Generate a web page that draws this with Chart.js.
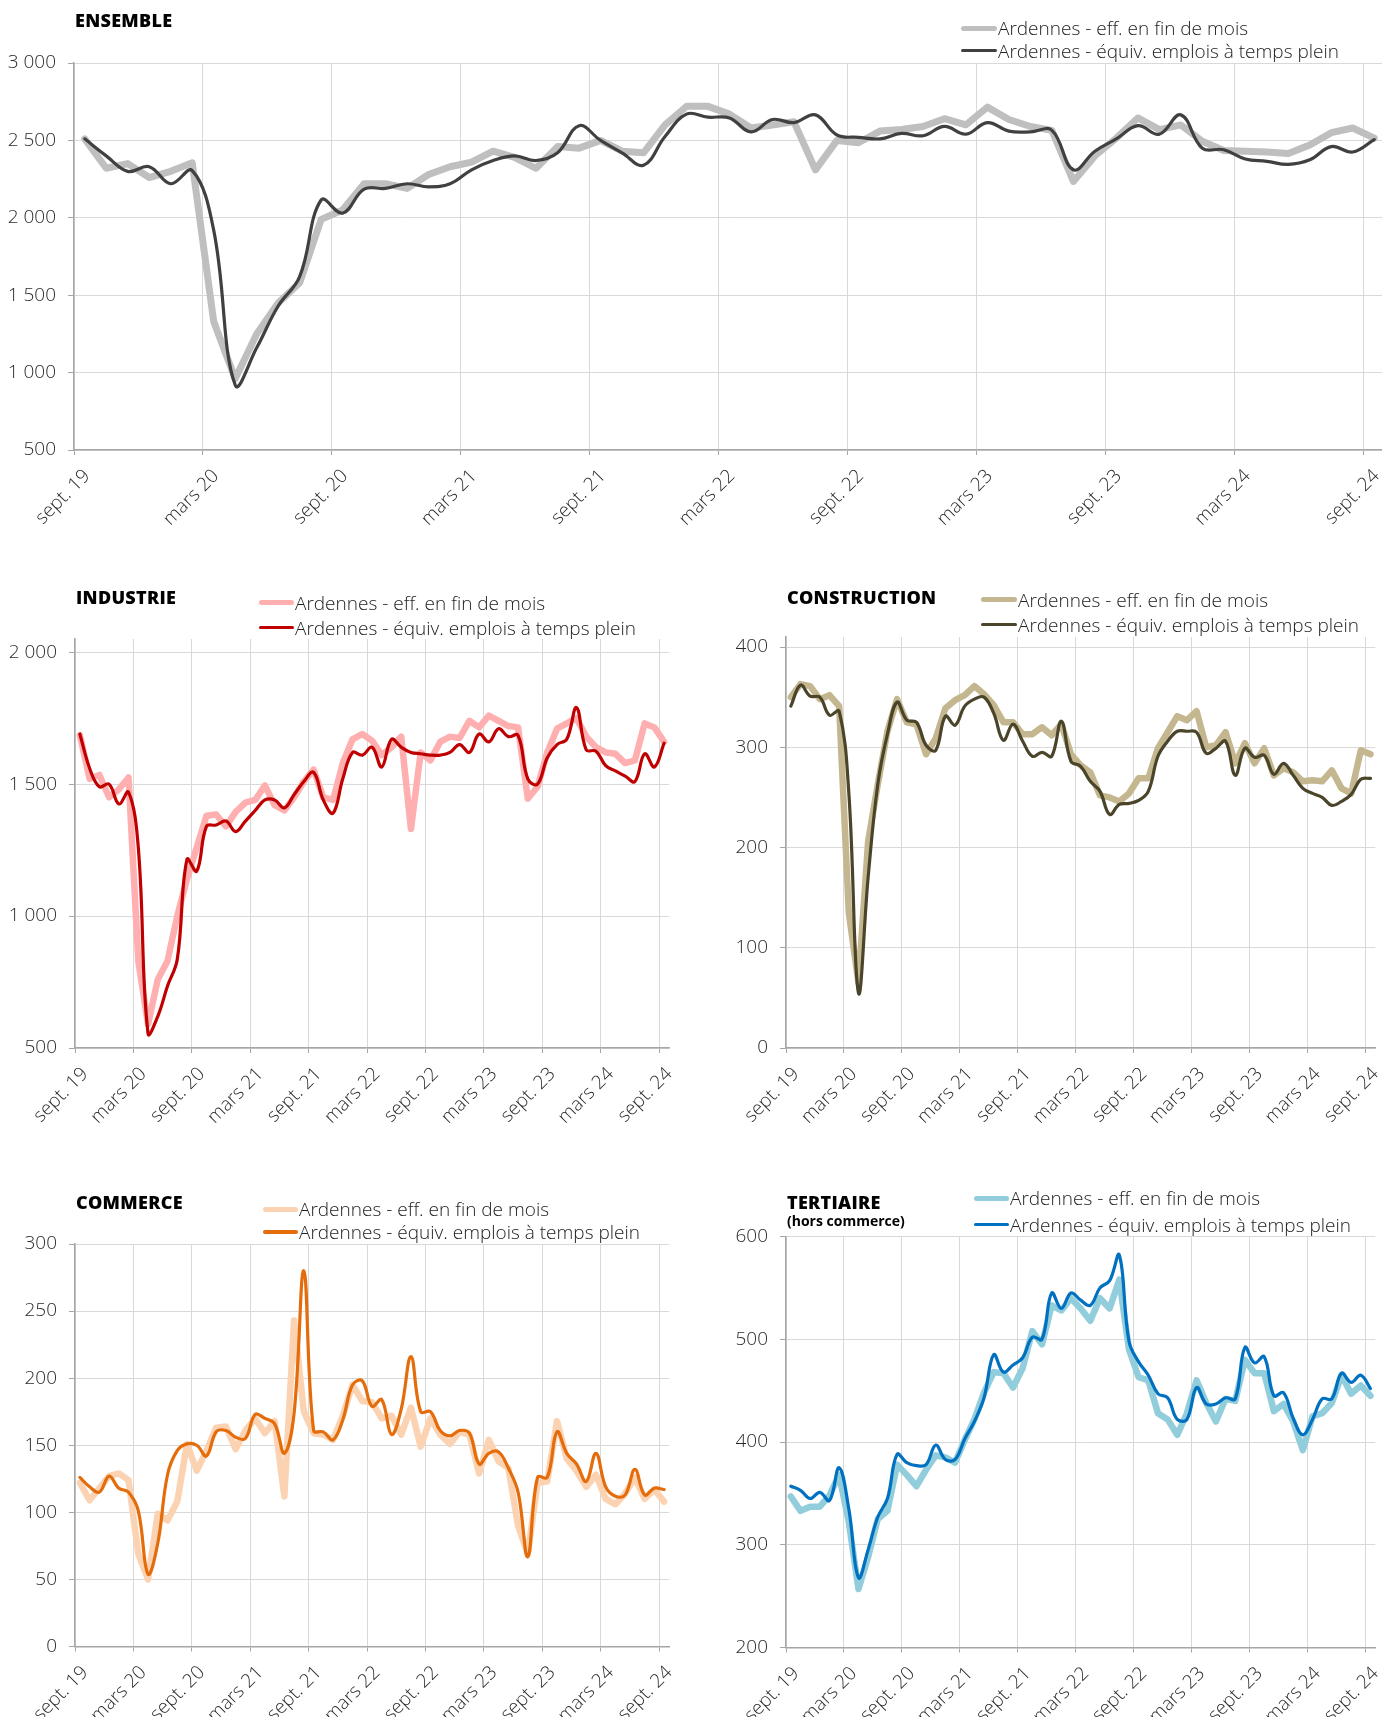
<!DOCTYPE html>
<html lang="fr">
<head>
<meta charset="utf-8">
<script src="https://cdn.jsdelivr.net/npm/chart.js@4.4.1/dist/chart.umd.min.js"></script>
<style>
  html, body { margin: 0; padding: 0; background: #fff; }
  body { width: 1382px; height: 1717px; overflow: hidden; position: relative; font-family: "Open Sans", "DejaVu Sans", sans-serif; color: #404040; }
  canvas { position: absolute; }
  .title { position: absolute; font-family: "Open Sans", sans-serif; font-weight: 800; font-size: 18px; color: #000; line-height: 18px; white-space: nowrap; letter-spacing: 0.3px; }
  .subtitle { position: absolute; font-family: "Open Sans", sans-serif; font-weight: 700; font-size: 14px; color: #000; line-height: 16px; white-space: nowrap; }
  .leg { position: absolute; font-family: "Open Sans", sans-serif; font-weight: 300; font-size: 19px; color: #222; line-height: 22px; white-space: nowrap; }
  .sw { position: absolute; border-radius: 3px; }
</style>
</head>
<body>
<script>
// ---------- DATA ----------
const tickLabels = ['sept. 19','mars 20','sept. 20','mars 21','sept. 21','mars 22','sept. 22','mars 23','sept. 23','mars 24','sept. 24'];
const seriesNames = ['Ardennes - eff. en fin de mois', 'Ardennes - équiv. emplois à temps plein'];

const ensEff = [2510,2320,2350,2260,2300,2355,1330,960,1250,1450,1580,1990,2050,2220,2220,2190,2280,2330,2360,2430,2390,2320,2460,2450,2500,2430,2420,2600,2720,2720,2670,2580,2600,2620,2310,2500,2485,2560,2570,2590,2640,2600,2715,2635,2590,2565,2235,2400,2515,2645,2570,2600,2495,2435,2430,2425,2415,2470,2550,2580,2515];
const ensEtp = [2510,2400,2300,2330,2220,2305,1920,920,1160,1430,1620,2115,2030,2185,2190,2220,2200,2220,2310,2370,2400,2370,2420,2595,2500,2420,2340,2525,2670,2650,2645,2555,2635,2615,2665,2535,2520,2510,2545,2530,2590,2540,2615,2560,2555,2565,2310,2430,2510,2595,2540,2665,2450,2440,2380,2365,2345,2375,2460,2425,2505];

const indEff = [1685,1520,1535,1450,1480,1525,830,590,760,830,1000,1140,1260,1380,1385,1340,1395,1430,1440,1495,1420,1400,1450,1510,1555,1450,1440,1580,1670,1690,1665,1610,1640,1680,1330,1620,1590,1660,1680,1675,1740,1715,1760,1740,1720,1715,1445,1490,1620,1710,1730,1750,1680,1640,1620,1615,1580,1590,1730,1715,1660];
const indEtp = [1690,1560,1490,1500,1425,1470,1260,555,620,735,835,1215,1170,1340,1345,1360,1320,1360,1400,1440,1440,1410,1460,1510,1545,1440,1390,1520,1620,1610,1640,1565,1670,1640,1620,1615,1610,1610,1620,1650,1620,1690,1660,1710,1680,1685,1520,1500,1600,1650,1670,1790,1630,1625,1570,1550,1530,1510,1615,1565,1655];

const conEff = [350,363,361,348,352,341,135,65,206,263,316,348,325,323,293,309,339,347,352,361,353,342,325,325,313,313,320,312,323,293,282,275,252,250,246,254,269,269,299,315,331,327,336,300,302,315,284,304,284,299,272,279,275,266,267,266,277,259,254,297,293];
const conEtp = [341,362,351,350,332,336,255,55,170,263,313,345,327,325,302,297,331,322,341,348,350,334,307,323,306,291,295,291,326,286,281,266,256,233,243,244,247,256,291,306,316,316,315,294,299,306,272,299,290,292,273,284,272,259,254,250,242,246,253,268,269];

const comEff = [122,109,118,127,129,124,69,50,99,94,108,151,131,146,163,164,147,161,170,159,168,112,243,175,159,158,154,172,195,183,182,170,172,158,178,149,170,158,151,160,158,129,154,138,133,90,69,122,123,168,140,131,119,128,110,106,114,126,110,117,108];
const comEtp = [126,119,115,127,118,115,101,54,77,128,146,151,150,142,160,161,156,155,173,170,166,144,174,280,161,160,154,169,195,198,179,184,158,177,216,175,175,161,157,161,159,136,144,145,133,115,67,126,126,160,144,136,123,144,119,112,113,132,113,118,117];

const terEff = [347,333,337,337,348,368,322,257,288,325,333,378,368,357,373,387,385,380,402,422,448,468,467,453,472,508,495,533,528,540,530,518,540,530,558,490,463,460,428,422,407,428,460,438,420,442,440,480,467,467,430,437,420,392,425,428,438,465,447,455,445];
const terEtp = [357,353,345,351,343,375,335,268,295,327,345,388,380,377,378,397,383,383,403,420,443,485,468,475,482,502,500,545,530,545,538,533,550,557,582,498,478,465,447,443,422,422,453,437,437,443,442,492,477,483,445,448,423,407,422,442,442,467,458,465,452];

const ensTicks = [500,1000,1500,2000,2500,3000];
const indTicks = [500,1000,1500,2000];
const conTicks = [0,100,200,300,400];
const comTicks = [0,50,100,150,200,250,300];
const terTicks = [200,300,400,500,600];

// ---------- PANELS (layout + styles) ----------
const panels = [
  { title: 'ENSEMBLE', eff: ensEff, etp: ensEtp, yTicks: ensTicks, yMin: 500, yMax: 3000,
    effColor: '#BFBFBF', etpColor: '#404040', effW: 7, etpW: 3.2, lblOff: 13,
    box: { left: 0, top: 0, w: 1392, h: 525 }, area: { left: 74, top: 63, right: 1385, bottom: 450 },
    titlePos: { x: 75, y: 20 }, legPos: { x: 961, y1: 28, y2: 50.5, len: 36 } },
  { title: 'INDUSTRIE', eff: indEff, etp: indEtp, yTicks: indTicks, yMin: 500, yMax: 2050,
    effColor: '#FFAFAF', etpColor: '#C00000', effW: 6.5, etpW: 3.2, lblOff: 10,
    box: { left: 0, top: 560, w: 690, h: 565 }, area: { left: 75, top: 639, right: 669, bottom: 1048 },
    titlePos: { x: 76, y: 597 }, legPos: { x: 259, y1: 602.5, y2: 627.5, len: 35 } },
  { title: 'CONSTRUCTION', eff: conEff, etp: conEtp, yTicks: conTicks, yMin: 0, yMax: 410,
    effColor: '#C4B78F', etpColor: '#4A452A', effW: 6.5, etpW: 3.2, lblOff: 10,
    box: { left: 690, top: 560, w: 702, h: 565 }, area: { left: 786, top: 637, right: 1378, bottom: 1048 },
    titlePos: { x: 787, y: 597 }, legPos: { x: 981, y1: 599.5, y2: 624.5, len: 36 } },
  { title: 'COMMERCE', eff: comEff, etp: comEtp, yTicks: comTicks, yMin: 0, yMax: 300,
    effColor: '#FBD3B3', etpColor: '#E46C0A', effW: 6.5, etpW: 3.2, lblOff: 10,
    box: { left: 0, top: 1160, w: 690, h: 557 }, area: { left: 75, top: 1244, right: 669, bottom: 1646.5 },
    titlePos: { x: 76, y: 1202 }, legPos: { x: 263, y1: 1209, y2: 1232, len: 35 } },
  { title: 'TERTIAIRE', subtitle: '(hors commerce)', eff: terEff, etp: terEtp, yTicks: terTicks, yMin: 200, yMax: 600,
    effColor: '#92CDDC', etpColor: '#0070C0', effW: 6.5, etpW: 3.2, lblOff: 10,
    box: { left: 690, top: 1160, w: 702, h: 557 }, area: { left: 786, top: 1236.5, right: 1378, bottom: 1647.5 },
    titlePos: { x: 787, y: 1202 }, subPos: { x: 787, y: 1221 }, legPos: { x: 974, y1: 1198, y2: 1224.5, len: 35 } }
];

const fmt = v => String(v).replace(/\B(?=(\d{3})+(?!\d))/g, ' ');
const toXY = arr => arr.map((v, i) => ({ x: i + 0.5, y: v }));
const TEXT = '#2a2a2a';
const GRID = '#D9D9D9';
const AXIS = '#A6A6A6';
const FONT = { family: '"Open Sans", "DejaVu Sans", sans-serif', size: 19, weight: '300' };

function addDiv(cls, text, x, yCenter, lh) {
  const d = document.createElement('div');
  d.className = cls;
  d.textContent = text;
  d.style.left = x + 'px';
  d.style.top = (yCenter - lh / 2) + 'px';
  document.body.appendChild(d);
  return d;
}

panels.forEach((p) => {
  const c = document.createElement('canvas');
  c.width = p.box.w; c.height = p.box.h;
  c.style.left = p.box.left + 'px'; c.style.top = p.box.top + 'px';
  c.style.width = p.box.w + 'px'; c.style.height = p.box.h + 'px';
  document.body.appendChild(c);

  const yAxisW = p.area.left - p.box.left;
  const padTop = p.area.top - p.box.top;
  const padRight = (p.box.left + p.box.w) - p.area.right;
  const xAxisH = (p.box.top + p.box.h) - p.area.bottom;

  new Chart(c, {
    type: 'line',
    data: {
      datasets: [
        { label: seriesNames[0], data: toXY(p.eff), borderColor: p.effColor, backgroundColor: p.effColor,
          borderWidth: p.effW, tension: 0, pointRadius: 0, order: 2, borderJoinStyle: 'round', borderCapStyle: 'round', fill: false },
        { label: seriesNames[1], data: toXY(p.etp), borderColor: p.etpColor, backgroundColor: p.etpColor,
          borderWidth: p.etpW, tension: 0.4, cubicInterpolationMode: 'default', pointRadius: 0, order: 1, borderJoinStyle: 'round', borderCapStyle: 'round', fill: false }
      ]
    },
    options: {
      responsive: false, animation: false, devicePixelRatio: 1,
      layout: { padding: { top: padTop, right: padRight, left: 0, bottom: 0 } },
      plugins: { legend: { display: false }, tooltip: { enabled: false }, title: { display: false } },
      scales: {
        x: {
          type: 'linear', min: 0, max: 61,
          afterBuildTicks: s => { s.ticks = tickLabels.map((t, k) => ({ value: 6 * k })); },
          afterFit: s => { s.height = xAxisH; },
          grid: { color: GRID, tickColor: AXIS, tickLength: 5, lineWidth: 1 },
          border: { color: AXIS, width: 1.5 },
          ticks: { autoSkip: false, minRotation: 45, maxRotation: 45, padding: 10, labelOffset: p.lblOff,
                   color: TEXT, font: FONT, callback: v => tickLabels[Math.round(v / 6)] }
        },
        y: {
          min: p.yMin, max: p.yMax,
          afterBuildTicks: s => { s.ticks = p.yTicks.map(v => ({ value: v })); },
          afterFit: s => { s.width = yAxisW; },
          grid: { color: GRID, tickColor: AXIS, tickLength: 6, lineWidth: 1 },
          border: { color: AXIS, width: 1.5 },
          ticks: { padding: 12, color: TEXT, font: FONT, callback: v => fmt(v) }
        }
      }
    }
  });

  addDiv('title', p.title, p.titlePos.x, p.titlePos.y, 18);
  if (p.subtitle) addDiv('subtitle', p.subtitle, p.subPos.x, p.subPos.y, 16);

  [[p.effColor, 5, p.legPos.y1, seriesNames[0]], [p.etpColor, 3.2, p.legPos.y2, seriesNames[1]]].forEach(([col, th, yc, name]) => {
    const sw = document.createElement('div');
    sw.className = 'sw';
    sw.style.background = col;
    sw.style.left = p.legPos.x + 'px';
    sw.style.width = p.legPos.len + 'px';
    sw.style.height = th + 'px';
    sw.style.top = (yc - th / 2) + 'px';
    document.body.appendChild(sw);
    addDiv('leg', name, p.legPos.x + p.legPos.len + 1, yc, 22);
  });
});
</script>
</body>
</html>
